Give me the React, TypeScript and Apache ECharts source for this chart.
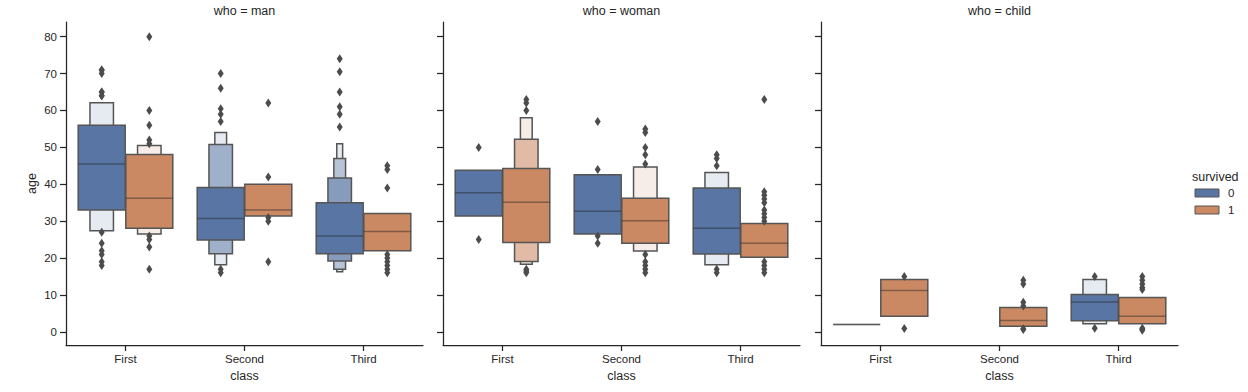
import React, { useEffect, useRef } from "react";
import * as echarts from "echarts";

// ---------- data ----------
const CLASSES = ["First", "Second", "Third"];
const WHO = ["man", "woman", "child"];
const SURVIVED = ["0", "1"];
const X_TICKS = [0, 1, 2];
const Y_TICKS = [0, 10, 20, 30, 40, 50, 60, 70, 80];
const Y_MIN = -3.56;
const Y_MAX = 83.98;

// indexed [class][survived]; levels = nested letter-value boxes [low, high], innermost first
const MAN_MEDIAN = [[45.5, 36.2], [30.7, 33.0], [26.0, 27.2]];
const MAN_LEVELS = [
  [[[33.0, 56.0], [27.4, 62.1]], [[28.1, 48.1], [26.5, 50.5]]],
  [[[24.9, 39.1], [21.2, 50.8], [18.2, 54.0]], [[31.4, 40.0]]],
  [[[21.2, 35.0], [19.2, 41.7], [17.0, 47.0], [16.3, 51.0]], [[22.0, 32.1]]],
];
const MAN_OUTLIERS = [
  [[71, 71, 70, 65, 65, 64, 64, 27, 24, 22, 21, 19, 18], [80, 60, 56, 52, 51, 26, 25, 23, 17]],
  [[70, 66, 60.5, 59, 57, 17, 16], [62, 42, 31, 30, 19]],
  [[74, 70.5, 65, 61, 59, 55.5], [45, 44, 39, 21, 20, 19, 18, 17, 16]],
];

const WOMAN_MEDIAN = [[37.7, 35.1], [32.7, 30.1], [28.1, 24.0]];
const WOMAN_LEVELS = [
  [[[31.4, 43.8]], [[24.2, 44.3], [19.1, 52.2], [18.3, 58.0]]],
  [[[26.5, 42.6]], [[24.0, 36.2], [21.9, 44.7]]],
  [[[21.1, 39.0], [18.2, 43.2]], [[20.2, 29.4]]],
];
const WOMAN_OUTLIERS = [
  [[50, 25], [63, 62, 60, 17, 16.5, 16]],
  [[57, 44, 26, 24], [55, 54, 50, 48, 45.5, 21, 19, 18, 17, 16]],
  [[48, 47, 45, 17, 16], [63, 38, 37, 36, 35, 33, 32, 31, 30, 19, 18, 17, 16]],
];

const CHILD_MEDIAN = [[2, 11.2], [null, 3.1], [8.1, 4.2]];
const CHILD_LEVELS = [
  [[[2, 2]], [[4.2, 14.2]]],
  [null, [[1.5, 6.6]]],
  [[[3.0, 10.1], [2.2, 14.2]], [[2.2, 9.3]]],
];
const CHILD_OUTLIERS = [
  [[], [15, 0.92]],
  [null, [14, 13, 8, 7, 0.83, 0.67]],
  [[15, 1], [15, 14, 13, 12, 11.5, 1, 0.75, 0.42]],
];

// ---------- style ----------
const HUE_COLORS = ["#5875a3", "#cb8963"];
const EDGE = "#555555";
const TEXT = "#262626";
const FONT = "'Liberation Sans', Arial, sans-serif";
const GRID_LEFTS = [66, 443, 821];
const GRID_W = 357;
const GRID_TOP = 22;
const GRID_H = 323;

function mix(hex: string, t: number) {
  const r = parseInt(hex.slice(1, 3), 16);
  const g = parseInt(hex.slice(3, 5), 16);
  const b = parseInt(hex.slice(5, 7), 16);
  const f = (v: number) => Math.round(v + (255 - v) * t);
  return `rgb(${f(r)},${f(g)},${f(b)})`;
}

type Group = { cls: number; hue: number; median: number; levels: number[][]; outliers: number[] };

function buildGroups(median: any[], levels: any[], outliers: any[]): Group[] {
  const out: Group[] = [];
  for (let c = 0; c < CLASSES.length; c++) {
    for (let h = 0; h < SURVIVED.length; h++) {
      if (levels[c][h] == null) continue;
      out.push({ cls: c, hue: h, median: median[c][h], levels: levels[c][h], outliers: outliers[c][h] });
    }
  }
  return out;
}

const PANELS = [
  buildGroups(MAN_MEDIAN, MAN_LEVELS, MAN_OUTLIERS),
  buildGroups(WOMAN_MEDIAN, WOMAN_LEVELS, WOMAN_OUTLIERS),
  buildGroups(CHILD_MEDIAN, CHILD_LEVELS, CHILD_OUTLIERS),
];

export default function App() {
  const ref = useRef<HTMLDivElement>(null);
  useEffect(() => {
    document.body.style.margin = "0";
    const chart = echarts.init(ref.current!, null, { renderer: "svg" });

    const grids = GRID_LEFTS.map((left) => ({ left, top: GRID_TOP, width: GRID_W, height: GRID_H }));
    const axisLine = { show: true, onZero: false, lineStyle: { color: TEXT, width: 1.25 } };

    const xAxes = PANELS.map((_, i) => ({
      type: "value",
      gridIndex: i,
      min: -0.5,
      max: 2.5,
      axisLine,
      axisTick: { show: true, length: 6, customValues: X_TICKS, lineStyle: { color: TEXT, width: 1.25 } },
      axisLabel: {
        customValues: X_TICKS,
        formatter: (v: number) => CLASSES[Math.round(v)] ?? "",
        fontSize: 11.5,
        color: TEXT,
        fontFamily: FONT,
        margin: 8,
      },
      splitLine: { show: false },
      name: "class",
      nameLocation: "middle",
      nameGap: 23,
      nameTextStyle: { fontSize: 12.5, color: TEXT, fontFamily: FONT },
    }));

    const yAxes = PANELS.map((_, i) => ({
      type: "value",
      gridIndex: i,
      min: Y_MIN,
      max: Y_MAX,
      axisLine,
      axisTick: { show: true, length: 6, customValues: Y_TICKS, lineStyle: { color: TEXT, width: 1.25 } },
      axisLabel: {
        show: i === 0,
        customValues: Y_TICKS,
        fontSize: 11.5,
        color: TEXT,
        fontFamily: FONT,
        margin: 9,
      },
      splitLine: { show: false },
      name: i === 0 ? "age" : "",
      nameLocation: "middle",
      nameGap: 28,
      nameTextStyle: { fontSize: 12.5, color: TEXT, fontFamily: FONT },
    }));

    const series = PANELS.map((groups, p) => ({
      type: "custom",
      xAxisIndex: p,
      yAxisIndex: p,
      silent: true,
      clip: false,
      data: groups.map((g) => [g.cls, g.hue, g.median]),
      encode: { x: 0, y: 2 },
      renderItem: (params: any, api: any) => {
        const g = groups[params.dataIndex];
        const c = api.coord([g.cls, 0]);
        const bw = api.size([1, 0])[0];
        const cx = c[0] + (g.hue === 0 ? -0.2 : 0.2) * bw;
        const w0 = 0.395 * bw;
        const base = HUE_COLORS[g.hue];
        const n = g.levels.length;
        const children: any[] = [];
        for (let i = n - 1; i >= 0; i--) {
          const [lo, hi] = g.levels[i];
          const yHi = api.coord([g.cls, hi])[1];
          const yLo = api.coord([g.cls, lo])[1];
          const w = w0 / Math.pow(2, i);
          const t = n > 1 ? (0.85 * i) / (n - 1) : 0;
          if (yLo - yHi < 0.5) {
            children.push({
              type: "line",
              shape: { x1: cx - w / 2, y1: yHi, x2: cx + w / 2, y2: yHi },
              style: { stroke: "#888888", lineWidth: 1.5 },
            });
          } else {
            children.push({
              type: "rect",
              shape: { x: cx - w / 2, y: yHi, width: w, height: yLo - yHi },
              style: { fill: mix(base, t), stroke: EDGE, lineWidth: 1.5 },
            });
          }
        }
        const ym = api.coord([g.cls, g.median])[1];
        children.push({
          type: "line",
          shape: { x1: cx - w0 / 2, y1: ym, x2: cx + w0 / 2, y2: ym },
          style: { stroke: "rgba(38,38,38,0.45)", lineWidth: 1.5 },
        });
        for (const o of g.outliers) {
          const yo = api.coord([g.cls, o])[1];
          children.push({
            type: "polygon",
            shape: { points: [[cx, yo - 4.5], [cx + 3, yo], [cx, yo + 4.5], [cx - 3, yo]] },
            style: { fill: "#4c4c4c", stroke: "none" },
          });
        }
        return { type: "group", children };
      },
    }));

    const titles = WHO.map((w, i) => ({
      type: "text",
      x: GRID_LEFTS[i] + GRID_W / 2,
      y: 11,
      style: { text: `who = ${w}`, fill: TEXT, font: `12.5px ${FONT}`, textAlign: "center", textVerticalAlign: "middle" },
    }));

    const legend: any[] = [
      {
        type: "text",
        x: 1192,
        y: 177,
        style: { text: "survived", fill: TEXT, font: `12.5px ${FONT}`, textAlign: "left", textVerticalAlign: "middle" },
      },
    ];
    SURVIVED.forEach((s, i) => {
      const cy = 193 + i * 17;
      legend.push({
        type: "rect",
        shape: { x: 1195, y: cy - 4, width: 24, height: 8 },
        style: { fill: HUE_COLORS[i], stroke: EDGE, lineWidth: 1 },
      });
      legend.push({
        type: "text",
        x: 1228,
        y: cy,
        style: { text: s, fill: TEXT, font: `11.5px ${FONT}`, textAlign: "left", textVerticalAlign: "middle" },
      });
    });

    chart.setOption({
      animation: false,
      backgroundColor: "#ffffff",
      textStyle: { fontFamily: FONT },
      grid: grids,
      xAxis: xAxes,
      yAxis: yAxes,
      series,
      graphic: [...titles, ...legend],
    });
    return () => chart.dispose();
  }, []);
  return <div ref={ref} style={{ width: 1248, height: 392 }} />;
}
